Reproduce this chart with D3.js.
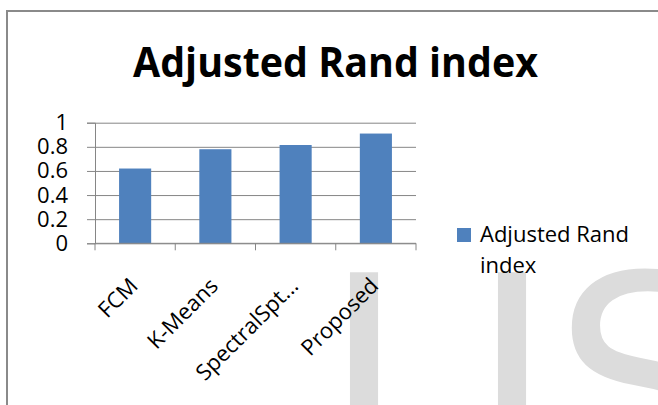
<!DOCTYPE html>
<html lang="en">
<head>
    <meta charset="UTF-8">
    <script src="https://d3js.org/d3.v7.min.js"></script>
    <title>Adjusted Rand index</title>
    <style>
        body { margin: 0; background: #fff; }
        text { font-family: "Open Sans", sans-serif; }
    </style>
</head>
<body>
    <div id="chart"></div>
    <script>
        const methods = ["FCM", "K-Means", "SpectralSpt...", "Proposed"];
        const ariValues = [0.62, 0.78, 0.815, 0.91];
        const yTicks = [0, 0.2, 0.4, 0.6, 0.8, 1];
        const seriesName = "Adjusted Rand index";

        const width = 658, height = 405;
        const plot = { left: 95, right: 416, top: 122.7, bottom: 243.3 };
        const barColor = "#4f81bd";
        const gridColor = "#868686";

        const svg = d3.select("#chart").append("svg")
            .attr("width", width)
            .attr("height", height)
            .attr("viewBox", [0, 0, width, height]);

        // watermark (cropped letters behind the chart)
        svg.append("text")
            .attr("x", [322, 470, 553].join(" "))
            .attr("y", 480)
            .attr("fill", "#dcdcdc")
            .style("font-family", "DejaVu Sans")
            .style("font-size", "285px")
            .text("IJS");

        // chart frame
        svg.append("rect")
            .attr("x", 7).attr("y", 11)
            .attr("width", 700).attr("height", 500)
            .attr("fill", "none")
            .attr("stroke", "#8a8a8a")
            .attr("stroke-width", 2);

        svg.append("text")
            .attr("x", 133)
            .attr("y", 77)
            .attr("textLength", 405)
            .attr("lengthAdjust", "spacingAndGlyphs")
            .style("font-weight", "bold")
            .style("font-size", "41px")
            .text(seriesName);

        const x = d3.scaleBand(methods, [plot.left, plot.right])
            .paddingInner(0.6).paddingOuter(0.3);
        const xCat = d3.scaleBand(methods, [plot.left, plot.right]);
        const y = d3.scaleLinear([0, 1], [plot.bottom, plot.top]);

        // y axis + gridlines
        svg.append("g")
            .attr("transform", `translate(${plot.left},0)`)
            .call(d3.axisLeft(y).tickValues(yTicks).tickFormat(d3.format("~g"))
                .tickSize(8).tickPadding(19))
            .call(g => g.select(".domain").attr("stroke", gridColor))
            .call(g => g.selectAll(".tick line").attr("stroke", gridColor))
            .call(g => g.selectAll(".tick line").clone()
                .attr("x2", plot.right - plot.left)
                .attr("stroke", gridColor))
            .call(g => g.selectAll(".tick text")
                .attr("fill", "#000")
                .style("font-size", "22px")
                .style("font-family", "'Open Sans', sans-serif"));

        svg.append("g")
            .selectAll("rect")
            .data(ariValues)
            .join("rect")
            .attr("x", (d, i) => x(methods[i]))
            .attr("y", d => y(d))
            .attr("width", x.bandwidth())
            .attr("height", d => y(0) - y(d))
            .attr("fill", barColor);

        // x axis ticks at category boundaries
        const bounds = methods.map(m => xCat(m)).concat([plot.right]);
        svg.append("line")
            .attr("x1", plot.left).attr("x2", plot.right)
            .attr("y1", y(0)).attr("y2", y(0))
            .attr("stroke", gridColor);
        svg.append("g")
            .selectAll("line")
            .data(bounds)
            .join("line")
            .attr("x1", d => d).attr("x2", d => d)
            .attr("y1", y(0)).attr("y2", y(0) + 7)
            .attr("stroke", gridColor);

        svg.append("g")
            .selectAll("text")
            .data(methods)
            .join("text")
            .attr("transform", d => `translate(${xCat(d) + xCat.bandwidth() / 2 + 4},${y(0) + 44}) rotate(-45)`)
            .attr("text-anchor", "end")
            .style("font-size", "22px")
            .text(d => d);

        // legend
        const legend = svg.append("g").attr("transform", "translate(457,228)");
        legend.append("rect")
            .attr("width", 14).attr("height", 14)
            .attr("fill", barColor);
        legend.append("text")
            .attr("x", 23).attr("y", 14)
            .style("font-size", "22px")
            .selectAll("tspan")
            .data(["Adjusted Rand", "index"])
            .join("tspan")
            .attr("x", 23)
            .attr("dy", (d, i) => i ? 31 : 0)
            .text(d => d);
    </script>
</body>
</html>
